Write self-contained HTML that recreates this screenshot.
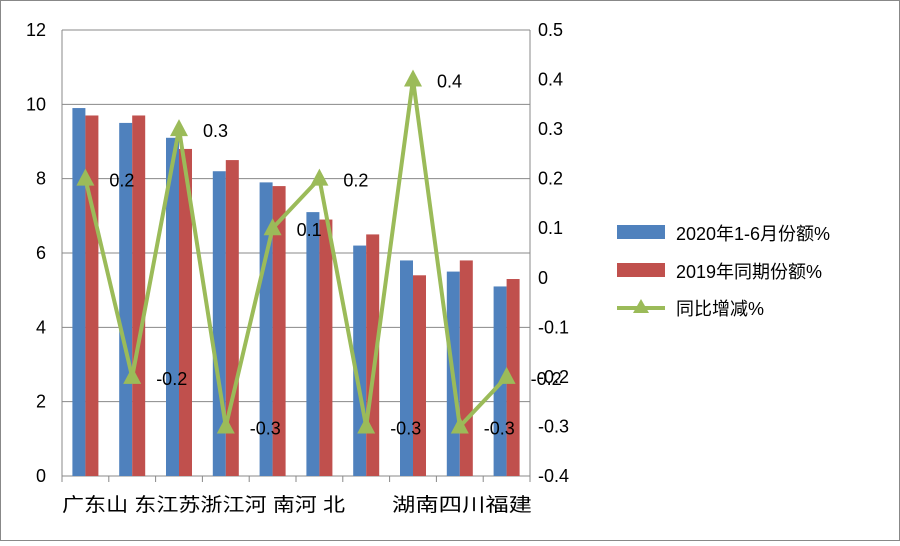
<!DOCTYPE html>
<html><head><meta charset="utf-8"><style>
body{margin:0;background:#fff}
svg text{font-family:"Liberation Sans","Noto Sans CJK SC",sans-serif;fill:#000}
</style></head><body>
<svg id="c" width="900" height="541" viewBox="0 0 900 541">
<rect x="0.5" y="0.5" width="899" height="540" fill="#fff" stroke="#888"/>
<g id="g"></g>
<g>
<rect x="617" y="225" width="48" height="14" fill="#4f81bd"/>
<text x="676" y="240" font-size="18">2020年1-6月份额%</text>
<rect x="617" y="263" width="48" height="14" fill="#c0504d"/>
<text x="676" y="278" font-size="18">2019年同期份额%</text>
<line x1="617" y1="308" x2="665" y2="308" stroke="#9bbb59" stroke-width="4"/>
<polygon points="641,299 633,313 649,313" fill="#9bbb59"/>
<text x="676" y="315" font-size="18">同比增减%</text>
</g>
<text x="62" y="511" font-size="19" xml:space="preserve" textLength="283" lengthAdjust="spacingAndGlyphs">广东山 东江苏浙江河 南河 北</text>
<text x="392" y="511" font-size="19" textLength="140" lengthAdjust="spacingAndGlyphs">湖南四川福建</text>
</svg>
<script>
const categories=["广东","山东","江苏","浙江","河南","河北","湖南","四川","福建","其他"];
const share2020=[9.9,9.5,9.1,8.2,7.9,7.1,6.2,5.8,5.5,5.1];
const share2019=[9.7,9.7,8.8,8.5,7.8,6.9,6.5,5.4,5.8,5.3];
const change=[0.2,-0.2,0.3,-0.3,0.1,0.2,-0.3,0.4,-0.3,-0.2];
const leftTicks=[0,2,4,6,8,10,12];
const rightTicks=["0.5","0.4","0.3","0.2","0.1","0","-0.1","-0.2","-0.3","-0.4"];
const NS="http://www.w3.org/2000/svg";
const g=document.getElementById('g');
const X0=62,X1=530,Y0=476,Y1=30;
const bw=(X1-X0)/categories.length;
const yL=v=>Y0-(v/12)*(Y0-Y1);
const yR=v=>Y0-((v+0.4)/0.9)*(Y0-Y1);
function mk(t,a){const e=document.createElementNS(NS,t);for(const k in a)e.setAttribute(k,a[k]);g.appendChild(e);return e;}
leftTicks.forEach(v=>{
 const l=mk('line',{x1:X0,x2:X1,y1:yL(v),y2:yL(v),stroke:'#888','stroke-width':1});
 
 
 const t=mk('text',{x:X0-16,y:yL(v)+6,'font-size':18,'text-anchor':'end'});t.textContent=v;
 
 
});
rightTicks.forEach(s=>{
 const t=mk('text',{x:X1+8,y:yR(parseFloat(s))+6,'font-size':18});t.textContent=s;
 
 
});
[X0,X1].forEach(x=>{const l=mk('line',{x1:x,x2:x,y1:Y1,y2:Y0,stroke:'#888'});
 
 });
for(let i=0;i<=categories.length;i++){const x=X0+i*bw;const l=mk('line',{x1:x,x2:x,y1:Y0,y2:Y0+6,stroke:'#888'});
 
 }
categories.forEach((c,i)=>{
 const cx=X0+i*bw+bw/2;
 const b=mk('rect',{x:cx-13,y:yL(share2020[i]),width:13,height:Y0-yL(share2020[i]),fill:'#4f81bd'});
 
 
 const r=mk('rect',{x:cx,y:yL(share2019[i]),width:13,height:Y0-yL(share2019[i]),fill:'#c0504d'});
 
 
});
const pts=change.map((v,i)=>[X0+i*bw+bw/2,yR(v)]);
const pl=mk('polyline',{points:pts.map(p=>p.join(',')).join(' '),fill:'none',stroke:'#9bbb59','stroke-width':4,'stroke-linejoin':'round'});


pts.forEach((p,i)=>{
 const m=mk('polygon',{points:`${p[0]},${p[1]-10} ${p[0]-9},${p[1]+7} ${p[0]+9},${p[1]+7}`,fill:'#9bbb59'});
 
 
 const t=mk('text',{x:p[0]+24,y:p[1]+8,'font-size':18});t.textContent=change[i];
 
 
});
</script>
</body></html>
